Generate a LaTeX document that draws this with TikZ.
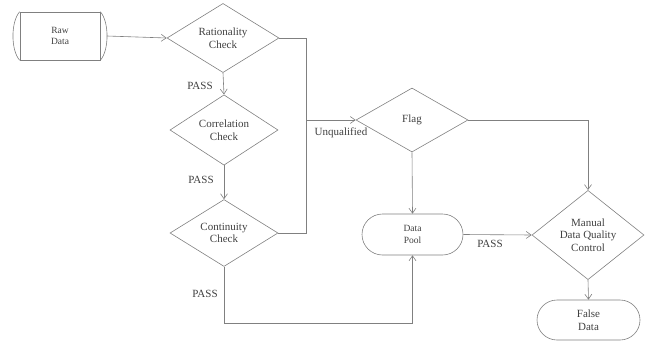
\documentclass[tikz,border=0pt]{standalone}
\usepackage{fontspec}
\setmainfont{Liberation Serif}
\usetikzlibrary{shapes.geometric,shapes.misc,arrows.meta}
\definecolor{linecol}{gray}{0.5}
\definecolor{textcol}{gray}{0.25}
\begin{document}
\begin{tikzpicture}[x=1pt,y=-1pt,
  every node/.style={text=textcol,font=\fontsize{11}{12.5}\selectfont,align=center,inner sep=0pt},
  conn/.style={draw=linecol,line width=0.6pt},
  arr/.style={conn,-{Straight Barb[length=5pt,width=7pt]}},
  dia/.style={diamond,draw=linecol,line width=0.6pt,minimum width=112pt,minimum height=63pt},
  stad/.style={rounded rectangle,draw=linecol,line width=0.6pt},
  lbl/.style={font=\fontsize{11}{12}\selectfont}]
\useasboundingbox (0,0) rectangle (645,343);
% Raw data
\node[draw=linecol,line width=0.6pt,minimum width=80pt,minimum height=48pt,font=\fontsize{9.5}{11}\selectfont] (raw) at (60,36) {Raw\\Data};
\draw[conn] (raw.north west) .. controls +(-9,10) and +(-9,-10) .. (raw.south west);
\draw[conn] (raw.north east) .. controls +(9,10) and +(9,-10) .. (raw.south east);
\coordinate (rawtip) at (107,36);
% diamonds
\node[dia] (rat) at (223,38) {Rationality\\Check};
\node[dia,minimum width=108pt,minimum height=61pt] (cor) at (224,130) {Correlation\\Check};
\node[dia,minimum width=108pt,minimum height=61pt] (cont) at (224,233) {Continuity\\Check};
\node[dia,minimum height=64pt] (flag) at (412,120) {Flag};
\node[dia,minimum height=64pt] (man) at (588,235) {Manual\\Data Quality\\Control};
% stadiums
\node[stad,minimum width=101pt,minimum height=41pt,font=\fontsize{9.5}{12}\selectfont] (pool) at (412.5,234.5) {Data\\Pool};
\node[stad,minimum width=103pt,minimum height=40pt] (false) at (588.5,320) {False\\Data};
% junctions
\coordinate (j1) at (306,38);
\coordinate (j2) at (306,120);
\coordinate (j3) at (306,233);
\coordinate (b1) at (224,323);
\coordinate (b2) at (412.5,323);
\coordinate (f1) at (588,120);
% connectors
\draw[arr] (rawtip) -- (rat.west);
\draw[arr] (rat.south) -- (cor.north);
\draw[arr] (cor.south) -- (cont.north);
\draw[conn] (rat.east) -- (j1) -- (j3) -- (cont.east);
\draw[arr] (j2) -- (flag.west);
\draw[arr] (flag.south) -- (pool.north);
\draw[arr] (cont.south) -- (b1) -- (b2) -- (pool.south);
\draw[arr] (flag.east) -- (f1) -- (man.north);
\draw[arr] (pool.east) -- (man.west);
\draw[arr] (man.south) -- (false.north);
% labels
\node[lbl] (p1) at (200,86) {PASS};
\node[lbl] (p2) at (201,180) {PASS};
\node[lbl] (p3) at (205,294) {PASS};
\node[lbl] (p4) at (490,244) {PASS};
\node[lbl] (uq) at (341,133) {Unqualified};
\end{tikzpicture}
\end{document}
